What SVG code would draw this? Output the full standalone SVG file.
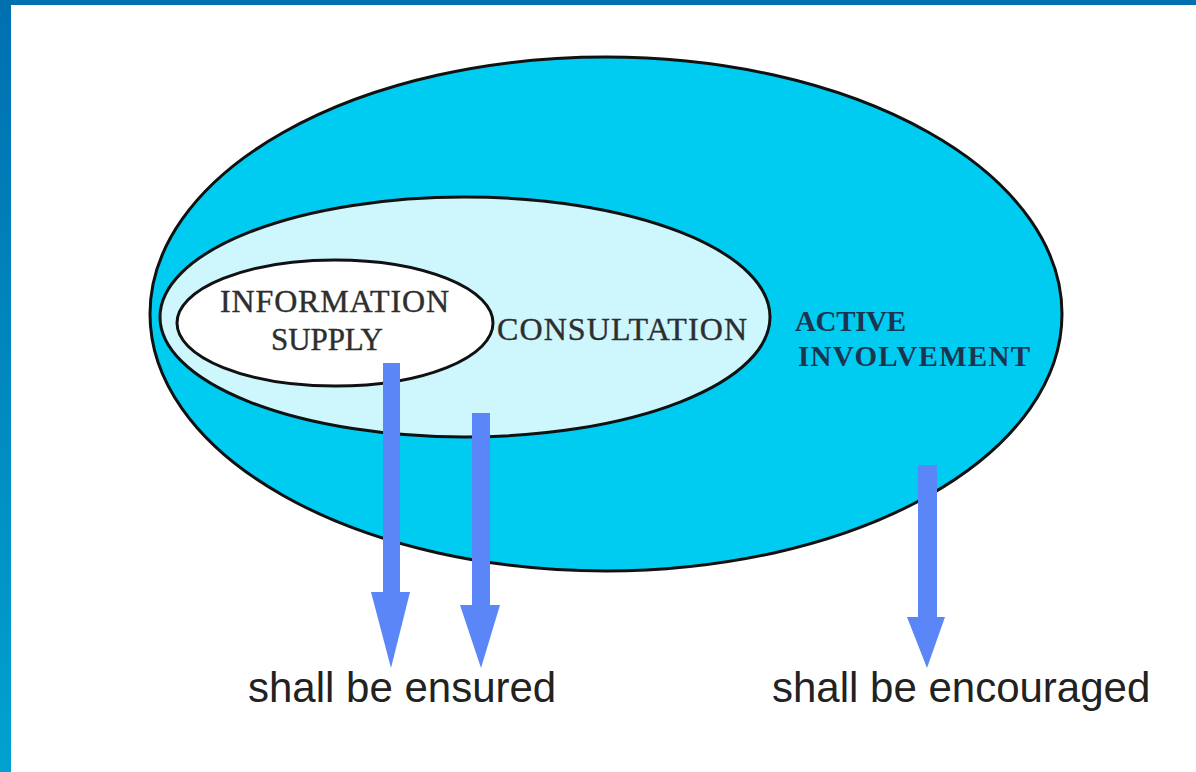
<svg xmlns="http://www.w3.org/2000/svg" width="1196" height="772" viewBox="0 0 1196 772">
<defs>
<linearGradient id="lb" x1="0" y1="0" x2="0" y2="1">
<stop offset="0" stop-color="#0070b0"/>
<stop offset="1" stop-color="#00a2cf"/>
</linearGradient>
</defs>
<style>
.ell{stroke:#111;stroke-width:3}
.serif{font-family:"Liberation Serif","Times New Roman",serif;fill:#2e2e2e;stroke:#2e2e2e;stroke-width:0.4}
.bold{font-family:"Liberation Serif","Times New Roman",serif;font-weight:bold;fill:#1b3550}
.lbl{font-family:"Liberation Sans",Arial,sans-serif;font-size:42px;fill:#222}
.arr{fill:#5a86f8}
</style>
<rect x="0" y="0" width="1196" height="772" fill="#ffffff"/>
<rect x="0" y="0" width="1196" height="5" fill="#0070b0"/>
<rect x="0" y="0" width="11" height="772" fill="url(#lb)"/>
<g id="active-involvement">
<ellipse class="ell" cx="606" cy="314" rx="456" ry="257" fill="#00cbf0"/>
<text class="bold" x="795" y="331" font-size="29" textLength="111">ACTIVE</text>
<text class="bold" x="798" y="366" font-size="29" textLength="232">INVOLVEMENT</text>
</g>
<g id="consultation">
<ellipse class="ell" cx="465" cy="317" rx="305" ry="120" fill="#cdf7fd"/>
<text class="serif" x="497" y="340" font-size="32" textLength="250">CONSULTATION</text>
</g>
<g id="information-supply">
<ellipse class="ell" cx="335" cy="323" rx="158" ry="63" fill="#ffffff"/>
<text class="serif" x="220" y="312" font-size="32" textLength="229">INFORMATION</text>
<text class="serif" x="271" y="350" font-size="31" textLength="112">SUPPLY</text>
</g>
<g id="connectors">
<path class="arr" d="M383,363 H400 V592 H410 L391,668 L371,592 H383 Z"/>
<path class="arr" d="M472,413 H490 V605 H500 L481,668 L460,605 H472 Z"/>
<path class="arr" d="M918,465 H937 V617 H945 L927,668 L907,617 H918 Z"/>
</g>
<g id="label-ensured">
<text class="lbl" x="248" y="702">shall be ensured</text>
</g>
<g id="label-encouraged">
<text class="lbl" x="772" y="702">shall be encouraged</text>
</g>
</svg>
